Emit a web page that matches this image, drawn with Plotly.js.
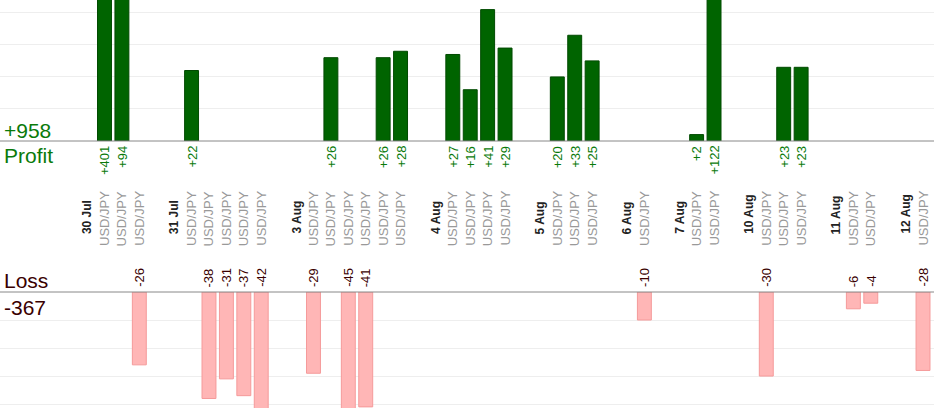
<!DOCTYPE html>
<html>
<head>
<meta charset="utf-8">
<script src="https://cdn.plot.ly/plotly-3.0.1.min.js"></script>
<style>body{margin:0;background:#fff}#chart{width:934px;height:420px}</style>
</head>
<body>
<div id="chart"></div>
<script>
// slot labels along the axis ('' = spacer slot)
const slots = ['30 Jul','USD/JPY','USD/JPY','USD/JPY','',
  '31 Jul','USD/JPY','USD/JPY','USD/JPY','USD/JPY','USD/JPY','',
  '3 Aug','USD/JPY','USD/JPY','USD/JPY','USD/JPY','USD/JPY','USD/JPY','',
  '4 Aug','USD/JPY','USD/JPY','USD/JPY','USD/JPY','',
  '5 Aug','USD/JPY','USD/JPY','USD/JPY','',
  '6 Aug','USD/JPY','',
  '7 Aug','USD/JPY','USD/JPY','',
  '10 Aug','USD/JPY','USD/JPY','USD/JPY','',
  '11 Aug','USD/JPY','USD/JPY','',
  '12 Aug','USD/JPY'];
const profit = [null,401,94,null,null, null,22,null,null,null,null,null,
  null,null,26,null,null,26,28,null, null,27,16,41,29,null,
  null,20,33,25,null, null,null,null, null,2,122,null,
  null,null,23,23,null, null,null,null,null, null,null];
const loss = [null,null,null,-26,null, null,null,-38,-31,-37,-42,null,
  null,-29,null,-45,-41,null,null,null, null,null,null,null,null,null,
  null,null,null,null,null, null,-10,null, null,null,null,null,
  null,-30,null,null,null, null,-6,-4,null, null,-28];
const totalProfit = '+958', totalLoss = '-367';

const xs = slots.map((s, i) => i);
const py = px => 1 - px / 420;
const font = 'Liberation Sans, Arial, sans-serif';

const annotations = [];
slots.forEach((s, i) => {
  if (!s) return;
  const isDate = s !== 'USD/JPY';
  annotations.push({
    x: i, xref: 'x', y: py(isDate ? 236 : 248), yref: 'paper',
    text: isDate ? '<b>' + s + '</b>' : s, textangle: -90,
    showarrow: false, xanchor: 'center', yanchor: 'bottom',
    font: {family: font, size: isDate ? 12 : 13, color: isDate ? '#222' : '#999'}
  });
});
profit.forEach((v, i) => {
  if (v === null) return;
  annotations.push({
    x: i, xref: 'x', y: py(144), yref: 'paper', text: '+' + v, textangle: -90,
    showarrow: false, xanchor: 'center', yanchor: 'top',
    font: {family: font, size: 13, color: '#0a7a0a'}
  });
});
loss.forEach((v, i) => {
  if (v === null) return;
  annotations.push({
    x: i, xref: 'x', y: py(289), yref: 'paper', text: String(v), textangle: -90,
    showarrow: false, xanchor: 'center', yanchor: 'bottom',
    font: {family: font, size: 13, color: '#3a0000'}
  });
});
const side = [[totalProfit, 130, '#0a7a0a'], ['Profit', 155, '#0a7a0a'],
  ['Loss', 280, '#3a0000'], [totalLoss, 307, '#3a0000']];
side.forEach(([t, y, c]) => annotations.push({
  x: 0.002, xref: 'paper', y: py(y), yref: 'paper', text: t, showarrow: false,
  xanchor: 'left', yanchor: 'middle', font: {family: font, size: 21, color: c}
}));

const traces = [
  {type: 'bar', x: xs, y: profit, width: 0.8, yaxis: 'y', hoverinfo: 'skip',
   marker: {color: '#006400', line: {color: '#004a00', width: 1}}},
  {type: 'bar', x: xs, y: loss, width: 0.8, yaxis: 'y2', hoverinfo: 'skip',
   marker: {color: '#ffb6b6', line: {color: '#f59a9a', width: 1}}}
];

const layout = {
  width: 934, height: 420, showlegend: false,
  margin: {l: 0, r: 0, t: 0, b: 0},
  paper_bgcolor: '#fff', plot_bgcolor: '#fff',
  xaxis: {range: [-5, 48.63], showticklabels: false, showgrid: false, zeroline: false, fixedrange: true},
  yaxis: {domain: [py(141), 1], range: [0, 44], dtick: 10, showticklabels: false,
    gridcolor: '#eeeeee', zeroline: false, showline: false},
  yaxis2: {domain: [py(408), py(292)], range: [-41.4, 0], dtick: 10, showticklabels: false,
    gridcolor: '#eeeeee', zeroline: false},
  shapes: [
    {type: 'line', xref: 'paper', x0: 0, x1: 1, yref: 'paper', y0: py(141), y1: py(141), line: {color: '#888', width: 1}},
    {type: 'line', xref: 'paper', x0: 0, x1: 1, yref: 'paper', y0: py(292), y1: py(292), line: {color: '#888', width: 1}}
  ],
  annotations: annotations
};

Plotly.newPlot('chart', traces, layout, {displayModeBar: false, staticPlot: true});
</script>
</body>
</html>
